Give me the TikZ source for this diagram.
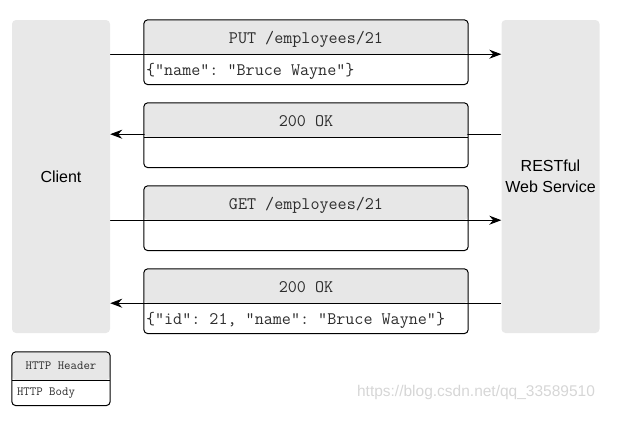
\documentclass[tikz,border=0pt]{standalone}
\usepackage{fontspec}
\setmainfont{Liberation Sans}
\usetikzlibrary{arrows.meta, positioning, backgrounds}
\definecolor{boxgray}{RGB}{232, 232, 232}
\definecolor{headgray}{RGB}{231, 231, 231}
\definecolor{textgray}{RGB}{45, 45, 45}
\definecolor{markgray}{RGB}{214, 214, 214}
\tikzset{
  party/.style    = {rectangle, rounded corners=4pt, fill=boxgray, minimum width=98pt, minimum height=313pt, align=center, font=\fontsize{16}{21}\selectfont},
  msghead/.style  = {rectangle, rounded corners=4pt, fill=headgray, minimum width=324pt, minimum height=34pt, inner sep=0pt, text height=13pt, text depth=0pt, font=\ttfamily\fontsize{17.6}{20}\selectfont\frenchspacing, text=textgray},
  msgbody/.style  = {rectangle, minimum height=30pt, inner xsep=2pt, inner ysep=0pt, text width=330pt, text height=13pt, text depth=0pt, align=flush left, font=\ttfamily\fontsize{17.6}{20}\selectfont\frenchspacing, text=textgray},
  msgline/.style  = {draw=black, line width=1pt, rounded corners=4pt},
  flow/.style     = {-{Stealth[length=12pt, width=9pt]}, line width=1pt, black},
}

\begin{document}
\begin{tikzpicture}[
    x=1pt, y=-1pt,
    keyhead/.style={rectangle, rounded corners=4pt, fill=headgray, minimum width=98pt, minimum height=28pt, inner sep=0pt, font=\ttfamily\fontsize{12.5}{14}\selectfont, text=textgray},
    keybody/.style={rectangle, minimum height=25pt, inner xsep=5pt, inner ysep=0pt, text width=100pt, align=flush left, font=\ttfamily\fontsize{12.5}{14}\selectfont, text=textgray}
]
\useasboundingbox (0,0) rectangle (639,429);

% Client und Service
\node[party] (client) at (61,176.5) {Client};
\node[party] (service) at (550.5,176.5) {RESTful\\Web Service};

% PUT-Anfrage
\node[msghead] (put-h) at (306,37) {PUT /employees/21};
\node[msgbody, below=0pt of put-h.south west, anchor=north west] (put-b) {\{"name": "Bruce Wayne"\}};
\draw[msgline] (put-h.north west) rectangle (put-b.south -| put-h.east);
\draw[line width=1pt] (put-h.south west) -- (put-h.south east);

% Antwort 200
\node[msghead] (ok1-h) at (306,120) {200 OK};
\node[msgbody, below=0pt of ok1-h.south west, anchor=north west] (ok1-b) {};
\draw[msgline] (ok1-h.north west) rectangle (ok1-b.south -| ok1-h.east);
\draw[line width=1pt] (ok1-h.south west) -- (ok1-h.south east);

% GET-Anfrage
\node[msghead] (get-h) at (306,203) {GET /employees/21};
\node[msgbody, below=0pt of get-h.south west, anchor=north west] (get-b) {};
\draw[msgline] (get-h.north west) rectangle (get-b.south -| get-h.east);
\draw[line width=1pt] (get-h.south west) -- (get-h.south east);

% Antwort 200 mit Daten
\node[msghead] (ok2-h) at (306,286) {200 OK};
\node[msgbody, below=0pt of ok2-h.south west, anchor=north west] (ok2-b) {\{"id": 21, "name": "Bruce Wayne"\}};
\draw[msgline] (ok2-h.north west) rectangle (ok2-b.south -| ok2-h.east);
\draw[line width=1pt] (ok2-h.south west) -- (ok2-h.south east);

% Pfeile (hinter den Nachrichten)
\begin{scope}[on background layer]
\draw[flow] (client.east |- put-h.south) -- (service.west |- put-h.south);
\draw[flow] ([yshift=3pt]service.west |- ok1-h.south) -- ([yshift=3pt]client.east |- ok1-h.south);
\draw[flow] (client.east |- get-h.south) -- (service.west |- get-h.south);
\draw[flow] (service.west |- ok2-h.south) -- (client.east |- ok2-h.south);
\end{scope}

% Legende
\node[keyhead] (key-h) at (61,366) {HTTP Header};
\node[keybody, below=0pt of key-h.south west, anchor=north west] (key-b) {HTTP Body};
\draw[msgline] (key-h.north west) rectangle (key-b.south -| key-h.east);
\draw[line width=1pt] (key-h.south west) -- (key-h.south east);

% Wasserzeichen
\node[font=\fontsize{15.5}{18}\selectfont, text=markgray] (mark) at (476,392) {https://blog.csdn.net/qq\_33589510};

\end{tikzpicture}
\end{document}
